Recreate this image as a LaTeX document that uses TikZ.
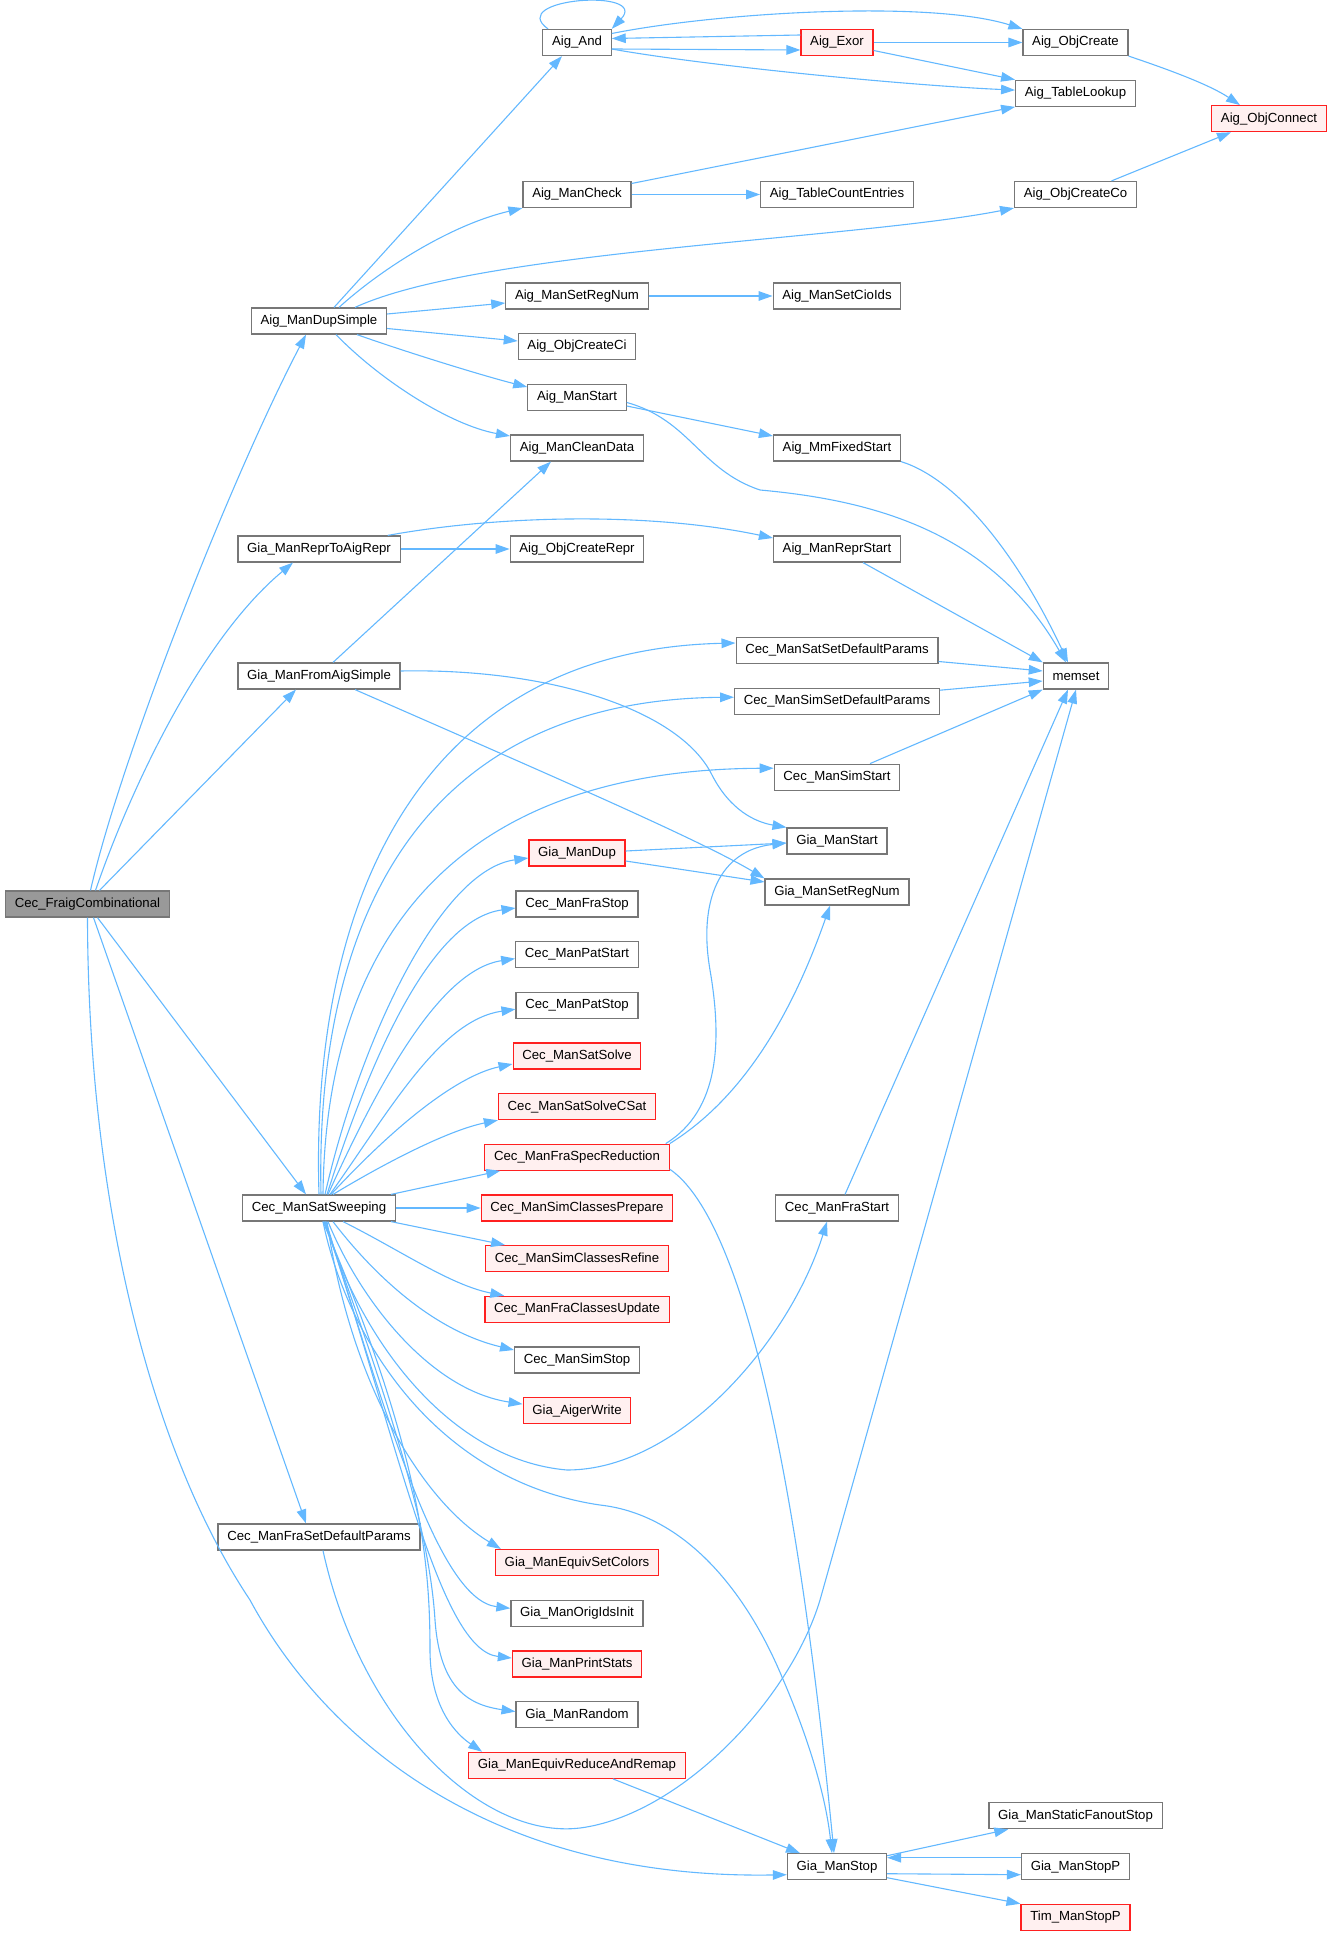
\documentclass[tikz,border=0pt]{standalone}
\usepackage{fontspec}
\setmainfont{Liberation Sans}
\usepackage{tikz}
\usetikzlibrary{arrows.meta}
\definecolor{edgeblue}{HTML}{63B8FF}
\definecolor{frame}{HTML}{777777}
\definecolor{rootfill}{HTML}{999999}
\definecolor{hotline}{HTML}{FF2020}
\definecolor{hotfill}{HTML}{FFF0F0}

\begin{document}
\begin{tikzpicture}[x=0.5pt, y=-0.5pt,
    fn/.style={draw=frame, fill=white, line width=0.6pt, inner xsep=4.6pt, inner ysep=0pt,
               minimum height=13pt, font=\fontsize{6.6}{8}\selectfont},
    hot/.style={fn, draw=hotline, fill=hotfill},
    rootbox/.style={fn, fill=rootfill},
    arr/.style={-{Triangle[length=7pt,width=4.8pt]}, draw=edgeblue, line width=0.55pt}
  ]
    \useasboundingbox (0,0) rectangle (1333,1936);

    \node[rootbox] (root) at (87.5,904) {Cec\_FraigCombinational};
    \node[fn] (dup) at (319,321) {Aig\_ManDupSimple};
    \node[fn] (repr) at (319,549) {Gia\_ManReprToAigRepr};
    \node[fn] (fromaig) at (319,676) {Gia\_ManFromAigSimple};
    \node[fn] (sweep) at (319,1208) {Cec\_ManSatSweeping};
    \node[fn] (fradef) at (319,1537) {Cec\_ManFraSetDefaultParams};

    \node[fn] (and) at (577,42.5) {Aig\_And};
    \node[fn] (check) at (577,194.5) {Aig\_ManCheck};
    \node[fn] (setreg) at (577,296) {Aig\_ManSetRegNum};
    \node[fn] (ci) at (577,346.5) {Aig\_ObjCreateCi};
    \node[fn] (mstart) at (577,397.5) {Aig\_ManStart};
    \node[fn] (clean) at (577,448) {Aig\_ManCleanData};
    \node[fn] (objrepr) at (577,549) {Aig\_ObjCreateRepr};
    \node[hot] (giadup) at (577,853) {Gia\_ManDup};
    \node[fn] (frastop) at (577,904) {Cec\_ManFraStop};
    \node[fn] (patstart) at (577,954.6) {Cec\_ManPatStart};
    \node[fn] (patstop) at (577,1005.2) {Cec\_ManPatStop};
    \node[hot] (satsolve) at (577,1056) {Cec\_ManSatSolve};
    \node[hot] (csat) at (577,1106.6) {Cec\_ManSatSolveCSat};
    \node[hot] (spec) at (577,1157.2) {Cec\_ManFraSpecReduction};
    \node[hot] (prep) at (577,1208) {Cec\_ManSimClassesPrepare};
    \node[hot] (refine) at (577,1258.6) {Cec\_ManSimClassesRefine};
    \node[hot] (upd) at (577,1309.3) {Cec\_ManFraClassesUpdate};
    \node[fn] (simstop) at (577,1360) {Cec\_ManSimStop};
    \node[hot] (aiger) at (577,1410.6) {Gia\_AigerWrite};
    \node[hot] (colors) at (577,1562.6) {Gia\_ManEquivSetColors};
    \node[fn] (orig) at (577,1613.3) {Gia\_ManOrigIdsInit};
    \node[hot] (stats) at (577,1664) {Gia\_ManPrintStats};
    \node[fn] (random) at (577,1714.6) {Gia\_ManRandom};
    \node[hot] (remap) at (577,1765.3) {Gia\_ManEquivReduceAndRemap};

    \node[hot] (exor) at (837,42.5) {Aig\_Exor};
    \node[fn] (tcount) at (837,194.5) {Aig\_TableCountEntries};
    \node[fn] (ciids) at (837,296) {Aig\_ManSetCioIds};
    \node[fn] (mmfixed) at (837,448) {Aig\_MmFixedStart};
    \node[fn] (reprstart) at (837,549) {Aig\_ManReprStart};
    \node[fn] (satdef) at (837,650.5) {Cec\_ManSatSetDefaultParams};
    \node[fn] (simdef) at (837,701.2) {Cec\_ManSimSetDefaultParams};
    \node[fn] (simstart) at (837,777.2) {Cec\_ManSimStart};
    \node[fn] (giastart) at (837,841) {Gia\_ManStart};
    \node[fn] (giasetreg) at (837,892) {Gia\_ManSetRegNum};
    \node[fn] (frastart) at (837,1208) {Cec\_ManFraStart};
    \node[fn] (giastop) at (837,1866.7) {Gia\_ManStop};

    \node[fn] (objcreate) at (1075.5,42.5) {Aig\_ObjCreate};
    \node[fn] (lookup) at (1075.5,93.3) {Aig\_TableLookup};
    \node[fn] (createco) at (1075.5,194.5) {Aig\_ObjCreateCo};
    \node[fn] (memset) at (1076,676) {memset};
    \node[fn] (fanout) at (1075.5,1815.7) {Gia\_ManStaticFanoutStop};
    \node[fn] (stopp) at (1075.5,1866.7) {Gia\_ManStopP};
    \node[hot] (tim) at (1075.5,1917.3) {Tim\_ManStopP};
    \node[hot] (connect) at (1269,118.7) {Aig\_ObjConnect};

    \foreach \a/\b in {exor/objcreate, check/tcount, setreg/ciids, repr/objrepr, sweep/prep}
      \draw[arr] (\a) -- (\b);

    \draw[arr] ([xshift=1.5pt]root.north) .. controls (120,760) and (230,480) .. ([xshift=-6.5pt]dup.south);
    \draw[arr] ([xshift=4pt]root.north) .. controls (130,790) and (200,640) .. ([xshift=-13pt]repr.south);
    \draw[arr] ([xshift=6pt]root.north) -- ([xshift=-11.5pt]fromaig.south);
    \draw[arr] ([xshift=5pt]root.south) -- ([xshift=-6.5pt]sweep.north);
    \draw[arr] ([xshift=3pt]root.south) -- ([xshift=-6.5pt]fradef.north);
    \draw[arr] (root.south) .. controls (88,1200) and (150,1450) .. (250,1600)
      .. controls (320,1730) and (480,1880) .. ([yshift=-4pt]giastop.west);

    \draw[arr] ([xshift=7.5pt]dup.north) -- ([xshift=-7.5pt]and.south);
    \draw[arr] ([xshift=10pt]dup.north) .. controls (380,270) and (450,225) .. (check.south west);
    \draw[arr] ([xshift=18pt]dup.north) .. controls (480,250) and (850,240) .. (createco.south west);
    \draw[arr] ([yshift=3.5pt]dup.east) -- ([yshift=-3.5pt]setreg.west);
    \draw[arr] ([yshift=-3.75pt]dup.east) -- ([yshift=2.75pt]ci.west);
    \draw[arr] ([xshift=19pt]dup.south) .. controls (400,350) and (480,375) .. ([yshift=5.25pt]mstart.west);
    \draw[arr] ([xshift=8.5pt]dup.south) .. controls (380,380) and (450,425) .. ([yshift=6pt]clean.west);

    \draw[arr] ([xshift=-14.5pt]and.north) .. controls (505,-2) and (650,-12) .. (and.north east);
    \draw[arr] ([yshift=-3.25pt]and.east) -- ([yshift=-3.75pt]exor.west);
    \draw[arr] ([yshift=3.75pt]exor.west) -- ([yshift=2pt]and.east);
    \draw[arr] ([yshift=4.5pt]and.east) .. controls (720,12) and (930,0) .. (objcreate.north west);
    \draw[arr] ([yshift=-3.25pt]and.east) .. controls (700,65) and (900,85) .. ([yshift=1.6pt]lookup.west);
    \draw[arr] ([yshift=-4pt]exor.east) -- (lookup.north west);
    \draw[arr] (objcreate.south east) .. controls (1170,70) and (1210,85) .. ([xshift=-14.5pt]connect.north);
    \draw[arr] ([xshift=18pt]createco.north) -- ([xshift=-19pt]connect.south);
    \draw[arr] ([yshift=5.5pt]check.east) -- (lookup.south west);

    \draw[arr] ([yshift=-4.25pt]mstart.east) -- ([yshift=6pt]mmfixed.west);
    \draw[arr] ([yshift=-2.5pt]mstart.east) .. controls (690,420) and (700,470) .. (760,490)
      .. controls (870,500) and (990,530) .. ([xshift=-5pt]memset.north);
    \draw[arr] (mmfixed.south east) .. controls (960,480) and (1020,560) .. ([xshift=-4pt]memset.north);
    \draw[arr] ([xshift=-6.5pt]repr.north east) .. controls (500,515) and (650,512) .. ([yshift=5.5pt]reprstart.west);
    \draw[arr] ([xshift=13pt]reprstart.south) -- (memset.north west);
    \draw[arr] ([yshift=-5.5pt]satdef.east) -- ([yshift=2.5pt]memset.west);
    \draw[arr] ([yshift=5.5pt]simdef.east) -- ([yshift=-2.5pt]memset.west);
    \draw[arr] ([xshift=16.5pt]simstart.north) -- (memset.south west);
    \draw[arr] ([xshift=4pt]frastart.north) -- ([xshift=-4pt]memset.south);
    \draw[arr] ([xshift=2pt]fradef.south) .. controls (360,1720) and (480,1840) .. (580,1828)
      .. controls (680,1815) and (790,1700) .. (820,1600) -- (memset.south);

    \draw[arr] ([xshift=7pt]fromaig.north) -- ([xshift=-13pt]clean.south);
    \draw[arr] ([yshift=2.5pt]fromaig.east) .. controls (550,668) and (680,710) .. (712,775)
      .. controls (730,810) and (755,822) .. (giastart.north west);
    \draw[arr] ([xshift=18pt]fromaig.south) .. controls (550,775) and (700,840) .. (giasetreg.north west);
    \draw[arr] ([yshift=1pt]giadup.east) -- ([yshift=-1pt]giastart.west);
    \draw[arr] ([yshift=-4pt]giadup.east) -- ([yshift=5pt]giasetreg.west);
    \draw[arr] ([xshift=-2pt]spec.north east) .. controls (720,1110) and (722,1040) .. (710,970)
      .. controls (698,900) and (720,850) .. ([yshift=-1pt]giastart.west);
    \draw[arr] (spec.north east) .. controls (740,1100) and (790,1020) .. ([xshift=-3.5pt]giasetreg.south);
    \draw[arr] ([yshift=-6pt]spec.east) .. controls (730,1210) and (790,1400) .. ([xshift=-1.5pt]giastop.north);

    \draw[arr] ([xshift=2pt]sweep.south) .. controls (345,1330) and (430,1480) .. (600,1505)
      .. controls (690,1515) and (750,1600) .. (782,1677)
      .. controls (805,1730) and (825,1790) .. ([xshift=-2.5pt]giastop.north);
    \draw[arr] ([xshift=3pt]sweep.south) .. controls (360,1340) and (450,1460) .. (567,1470)
      .. controls (680,1470) and (790,1340) .. ([xshift=-5pt]frastart.south);
    \draw[arr] (sweep.north) .. controls (310,900) and (420,650) .. ([yshift=3.75pt]satdef.west);
    \draw[arr] ([xshift=1pt]sweep.north) .. controls (315,920) and (420,700) .. ([yshift=2pt]simdef.west);
    \draw[arr] ([xshift=2pt]sweep.north) .. controls (325,980) and (420,770) .. ([yshift=4.5pt]simstart.west);
    \draw[arr] ([xshift=3pt]sweep.north) .. controls (360,1040) and (440,870) .. ([yshift=-2.5pt]giadup.west);
    \draw[arr] ([xshift=4pt]sweep.north) .. controls (370,1060) and (430,920) .. ([yshift=-2pt]frastop.west);
    \draw[arr] ([xshift=4.5pt]sweep.north) .. controls (380,1080) and (440,970) .. ([yshift=-2pt]patstart.west);
    \draw[arr] ([xshift=5.5pt]sweep.north) .. controls (390,1110) and (440,1020) .. ([yshift=-2pt]patstop.west);
    \draw[arr] ([xshift=6pt]sweep.north) .. controls (400,1120) and (460,1075) .. ([yshift=-4pt]satsolve.west);
    \draw[arr] ([xshift=7pt]sweep.north) .. controls (390,1160) and (450,1130) .. (csat.south west);
    \draw[arr] ([xshift=-2.5pt]sweep.north east) -- ([xshift=8pt]spec.south west);
    \draw[arr] ([xshift=-2.5pt]sweep.south east) -- ([xshift=10pt]refine.north west);
    \draw[arr] ([xshift=12pt]sweep.south) .. controls (400,1250) and (450,1285) .. ([xshift=10pt]upd.north west);
    \draw[arr] ([xshift=7pt]sweep.south) .. controls (370,1270) and (430,1330) .. ([yshift=5pt]simstop.west);
    \draw[arr] ([xshift=4.5pt]sweep.south) .. controls (360,1300) and (430,1390) .. ([yshift=3.25pt]aiger.west);
    \draw[arr] ([xshift=4pt]sweep.south) .. controls (350,1380) and (420,1500) .. ([xshift=3pt]colors.north west);
    \draw[arr] ([xshift=3.5pt]sweep.south) .. controls (390,1430) and (440,1600) .. ([yshift=2.5pt]orig.west);
    \draw[arr] ([xshift=3pt]sweep.south) .. controls (400,1450) and (440,1650) .. ([yshift=3pt]stats.west);
    \draw[arr] ([xshift=2.5pt]sweep.south) .. controls (400,1430) and (430,1540) .. (435,1620)
      .. controls (440,1690) and (470,1705) .. ([yshift=1.5pt]random.west);
    \draw[arr] ([xshift=2pt]sweep.south) .. controls (420,1450) and (430,1560) .. (430,1650)
      .. controls (430,1700) and (450,1730) .. ([xshift=7pt]remap.north west);

    \draw[arr] ([xshift=18pt]remap.south) -- ([xshift=-18.5pt]giastop.north);
    \draw[arr] ([yshift=5.5pt]giastop.east) -- ([xshift=10pt]fanout.south west);
    \draw[arr] ([yshift=4.5pt]stopp.west) -- ([yshift=4.5pt]giastop.east);
    \draw[arr] ([yshift=-3.5pt]giastop.east) -- ([yshift=-4pt]stopp.west);
    \draw[arr] ([yshift=-5.5pt]giastop.east) -- (tim.north west);
  \end{tikzpicture}
\end{document}
